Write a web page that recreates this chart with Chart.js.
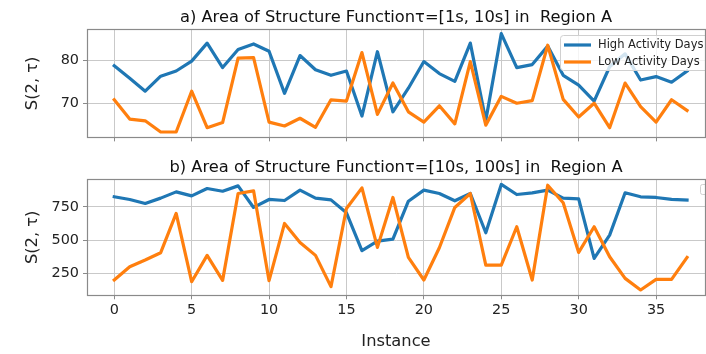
<!DOCTYPE html>
<html>
<head>
<meta charset="utf-8">
<script src="https://cdn.jsdelivr.net/npm/chart.js@4/dist/chart.umd.min.js"></script>
<style>
  html, body { margin: 0; padding: 0; background: #ffffff; }
  #wrap { position: relative; width: 706px; height: 354px; overflow: hidden; background: #fff; }
  canvas { position: absolute; left: 0; }
  #cA { top: 0; }
  #cB { top: 150px; }
</style>
</head>
<body>
<div id="wrap">
  <canvas id="cA" width="706" height="150"></canvas>
  <canvas id="cB" width="706" height="204"></canvas>
</div>
<script>
// Instance index shared by both panels
const instances = [0, 1, 2, 3, 4, 5, 6, 7, 8, 9, 10, 11, 12, 13, 14, 15, 16, 17, 18,
                   19, 20, 21, 22, 23, 24, 25, 26, 27, 28, 29, 30, 31, 32, 33, 34, 35, 36, 37];

// Panel a) tau = [1s, 10s]
const highShort = [78.8, 75.9, 72.9, 76.4, 77.6, 79.9, 84.1, 78.4, 82.6, 83.9,
                   82.2, 72.4, 81.2, 77.9, 76.6, 77.6, 67.1, 82.1, 68.1, 73.6,
                   79.8, 77.0, 75.2, 84.1, 66.1, 86.3, 78.4, 79.1, 83.4, 76.6,
                   74.3, 70.6, 78.6, 81.6, 75.5, 76.3, 75.0, 77.6];
const lowShort  = [70.9, 66.4, 66.0, 63.4, 63.4, 72.9, 64.4, 65.6, 80.6, 80.7,
                   65.7, 64.8, 66.6, 64.5, 70.9, 70.6, 81.9, 67.5, 74.8, 68.1,
                   65.7, 69.5, 65.3, 79.8, 65.0, 71.7, 70.1, 70.7, 83.6, 71.0,
                   66.9, 70.1, 64.4, 74.8, 69.3, 65.7, 70.9, 68.4];

// Panel b) tau = [10s, 100s]
const highLong = [825, 805, 775, 815, 862, 832, 887, 867, 907, 745,
                  805, 797, 875, 815, 802, 705, 420, 492, 507, 792,
                  875, 850, 795, 850, 555, 918, 842, 855, 875, 815,
                  810, 362, 537, 855, 825, 820, 805, 800];
const lowLong  = [200, 300, 350, 405, 700, 187, 385, 197, 850, 870,
                  195, 625, 482, 385, 150, 737, 892, 445, 820, 370,
                  200, 442, 745, 850, 312, 312, 600, 200, 912, 780,
                  407, 600, 375, 212, 125, 205, 205, 370];

const seriesNames = ['High Activity Days', 'Low Activity Days'];
const titleA = 'a) Area of Structure Function\u03C4=[1s, 10s] in  Region A';
const titleB = 'b) Area of Structure Function\u03C4=[10s, 100s] in  Region A';
const yLabel = 'S(2, \u03C4)';
const xLabel = 'Instance';
const xTicks = [0, 5, 10, 15, 20, 25, 30, 35];

const BLUE = '#1f77b4', ORANGE = '#ff7f0e';
const FONT = "'DejaVu Sans', sans-serif";
const SPINE = '#8a8a8a', GRID = '#c9c9c9';

Chart.defaults.font.family = FONT;
Chart.defaults.color = '#222';

const pts = (ys) => instances.map((x, i) => ({ x: x, y: ys[i] }));

// Four-sided frame around the plotting area
const framePlugin = {
  id: 'frame',
  afterDraw(chart) {
    const { ctx, chartArea: a } = chart;
    ctx.save();
    ctx.strokeStyle = SPINE;
    ctx.lineWidth = 1.2;
    ctx.strokeRect(Math.round(a.left) + 0.5, Math.round(a.top) + 0.5,
                   Math.round(a.right - a.left), Math.round(a.bottom - a.top));
    ctx.restore();
  }
};

// Inset legend in the upper-right corner of the plotting area
const insetLegend = {
  id: 'insetLegend',
  afterDatasetsDraw(chart, args, opts) {
    if (!opts || !opts.show) return;
    const { ctx, chartArea: a } = chart;
    ctx.save();
    const boxL = 560.5, boxT = 35.5, boxW = 160, boxH = 35, r = 3;
    ctx.beginPath();
    ctx.roundRect(boxL, boxT, boxW, boxH, r);
    ctx.fillStyle = 'rgba(255,255,255,0.8)';
    ctx.fill();
    ctx.strokeStyle = '#d0d0d0';
    ctx.lineWidth = 1;
    ctx.stroke();
    const rows = [45, 62];
    chart.data.datasets.slice().sort((p, q) => p.legendRank - q.legendRank).forEach((ds, i) => {
      const y = rows[i];
      ctx.strokeStyle = ds.borderColor;
      ctx.lineWidth = 3.2;
      ctx.lineCap = 'butt';
      ctx.beginPath();
      ctx.moveTo(564, y);
      ctx.lineTo(591, y);
      ctx.stroke();
      ctx.fillStyle = '#222';
      ctx.font = '11.5px ' + FONT;
      ctx.textBaseline = 'middle';
      ctx.textAlign = 'left';
      ctx.fillText(ds.label, 598, y + 0.5);
    });
    ctx.restore();
  }
};

// Empty legend frame in panel b)
const emptyLegend = {
  id: 'emptyLegend',
  afterDatasetsDraw(chart, args, opts) {
    if (!opts || !opts.show) return;
    const { ctx } = chart;
    ctx.save();
    ctx.beginPath();
    ctx.roundRect(700.5, 34.5, 12, 10, 2);
    ctx.fillStyle = 'rgba(255,255,255,0.8)';
    ctx.fill();
    ctx.strokeStyle = '#d0d0d0';
    ctx.lineWidth = 1;
    ctx.stroke();
    ctx.restore();
  }
};

function makeChart(id, title, high, low, yMin, yMax, yStep, xHeight, showXLabels, legendOpts) {
  return new Chart(document.getElementById(id), {
    type: 'line',
    data: {
      datasets: [
        { label: seriesNames[0], data: pts(high), borderColor: BLUE, backgroundColor: BLUE,
          borderWidth: 3.2, pointRadius: 0, tension: 0, order: 1, legendRank: 0,
          borderJoinStyle: 'round', borderCapStyle: 'square' },
        { label: seriesNames[1], data: pts(low), borderColor: ORANGE, backgroundColor: ORANGE,
          borderWidth: 3.2, pointRadius: 0, tension: 0, order: 0, legendRank: 1,
          borderJoinStyle: 'round', borderCapStyle: 'square' }
      ]
    },
    options: {
      responsive: false,
      animation: false,
      devicePixelRatio: 1,
      layout: { padding: { left: 0, right: 1, top: 0, bottom: 0 } },
      plugins: {
        legend: { display: false },
        tooltip: { enabled: false },
        title: {
          display: true, text: title, fullSize: false,
          font: { size: 16.3, weight: 'normal', family: FONT, lineHeight: 1.2 },
          color: '#111', padding: { top: 8, bottom: 1.8 }
        },
        insetLegend: legendOpts.inset,
        emptyLegend: legendOpts.empty
      },
      scales: {
        x: {
          type: 'linear', min: -1.76, max: 38.16,
          afterFit(s) { s.height = xHeight; },
          afterBuildTicks(s) { s.ticks = xTicks.map(v => ({ value: v })); },
          ticks: { display: showXLabels, includeBounds: false, padding: 2,
                   font: { size: 14.4, family: FONT }, color: '#222', maxRotation: 0 },
          grid: { color: GRID, lineWidth: 1, tickLength: 4, tickColor: SPINE, drawTicks: true },
          border: { color: SPINE, width: 1 },
          title: { display: showXLabels, text: xLabel,
                   font: { size: 16.3, family: FONT, lineHeight: 1.2 }, color: '#222',
                   padding: { top: 0, bottom: 2 } }
        },
        y: {
          type: 'linear', min: yMin, max: yMax,
          afterFit(s) { s.width = 87; },
          ticks: { stepSize: yStep, includeBounds: false, padding: 4,
                   font: { size: 14.4, family: FONT }, color: '#222' },
          grid: { color: GRID, lineWidth: 1, tickLength: 4, tickColor: SPINE, drawTicks: true },
          border: { color: SPINE, width: 1 },
          title: { display: true, text: yLabel,
                   font: { size: 16.3, family: FONT, lineHeight: 1.2 }, color: '#222',
                   padding: { top: 23, bottom: 0 } }
        }
      }
    },
    plugins: [insetLegend, emptyLegend, framePlugin]
  });
}

makeChart('cA', titleA, highShort, lowShort, 62.15, 87.3, 10, 3.3, false,
          { inset: { show: true }, empty: { show: false } });
makeChart('cB', titleB, highLong, lowLong, 85, 956, 250, 58.7, true,
          { inset: { show: false }, empty: { show: true } });
</script>
</body>
</html>
